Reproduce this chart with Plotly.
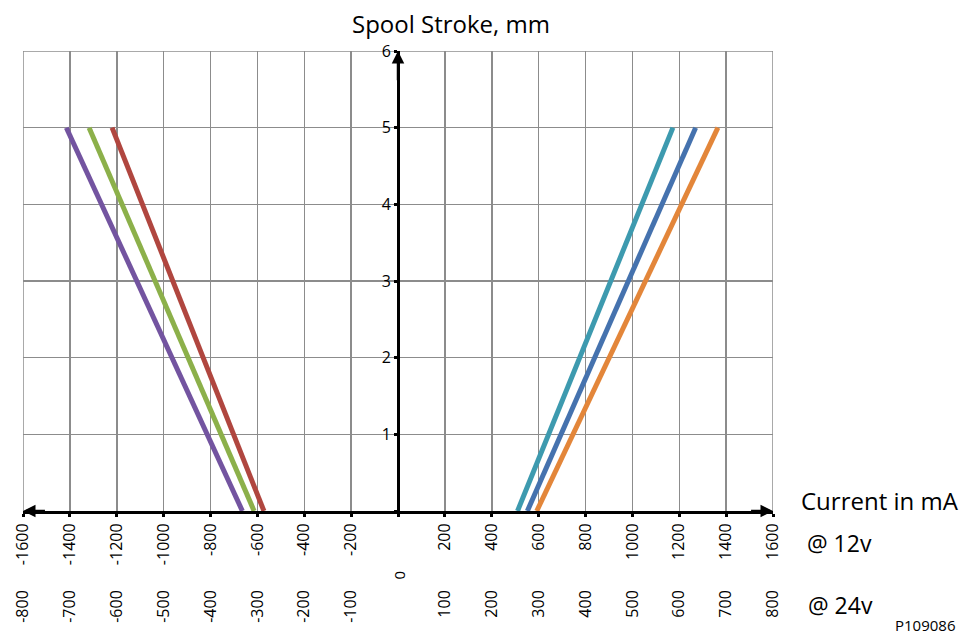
import plotly.graph_objects as go

# ---- data ----
stroke = [0, 5]
purple_ma = [-664, -1415]
green_ma = [-614, -1318]
red_ma = [-572, -1220]
teal_ma = [510, 1173]
blue_ma = [552, 1270]
orange_ma = [592, 1365]

x12_ticks = list(range(-1600, 1601, 200))
x12_labels = ["" if v == 0 else str(v) for v in x12_ticks]
x24_ticks = list(range(-800, 801, 100))
x24_labels = ["" if v == 0 else str(v) for v in x24_ticks]
y_ticks = [0, 1, 2, 3, 4, 5, 6]
y_labels = ["", "1", "2", "3", "4", "5", "6"]

series = [
    (purple_ma, "#7354A0"),
    (green_ma, "#8CB04A"),
    (red_ma, "#B0463F"),
    (teal_ma, "#3D9AAF"),
    (blue_ma, "#4572AE"),
    (orange_ma, "#E3863A"),
]

fig = go.Figure()
for xs, col in series:
    fig.add_trace(go.Scatter(x=xs, y=stroke, mode="lines",
                             line=dict(color=col, width=5), showlegend=False,
                             hoverinfo="skip"))
# invisible trace for secondary axis
fig.add_trace(go.Scatter(x=[-800, 800], y=[0, 0], xaxis="x2", mode="markers",
                         marker=dict(opacity=0), showlegend=False, hoverinfo="skip"))

FONT = "Open Sans, Noto Sans, sans-serif"
W, H = 960, 636
l, r, t, b = 23, 187, 51, 10
plot_w = W - l - r
plot_h = H - t - b


def sx(px):
    return (px - l) / plot_w


def sy(py):
    return 1 - (py - t) / plot_h


y0_frac = sy(511)
x2_pos = sy(586)

fig.update_layout(
    template="none",
    width=W, height=H,
    margin=dict(l=l, r=r, t=t, b=b, autoexpand=False),
    paper_bgcolor="white", plot_bgcolor="white",
    font=dict(family=FONT, color="black"),
    xaxis=dict(range=[-1600, 1600], tickvals=x12_ticks, ticktext=x12_labels,
               tickangle=-90, tickfont=dict(size=16), automargin=False,
               showgrid=True, gridcolor="#8c8c8c", gridwidth=1.5,
               zeroline=False, showline=True, linecolor="black", linewidth=3,
               ticks="outside", ticklen=3, tickwidth=3, tickcolor="black",
               anchor="y", fixedrange=True),
    xaxis2=dict(range=[-800, 800], tickvals=x24_ticks, ticktext=x24_labels,
                tickangle=-90, tickfont=dict(size=16), overlaying="x",
                anchor="free", position=x2_pos, side="bottom", automargin=False,
                showgrid=False, zeroline=False, showline=False, ticks=""),
    yaxis=dict(range=[0, 6], domain=[y0_frac, 1], tickvals=y_ticks, ticktext=y_labels,
               tickfont=dict(size=16), automargin=False,
               showgrid=True, gridcolor="#8c8c8c", gridwidth=1.5,
               zeroline=False, showline=True, linecolor="black", linewidth=3,
               ticks="outside", ticklen=3, tickwidth=3, tickcolor="black",
               anchor="free", position=0.5, fixedrange=True),
)

# border gridlines at the edges
fig.add_shape(type="line", xref="x", yref="y", x0=-1600, x1=1600, y0=6, y1=6,
              line=dict(color="#8c8c8c", width=1.5), layer="below")
fig.add_shape(type="line", xref="x", yref="y", x0=-1600, x1=-1600, y0=0, y1=6,
              line=dict(color="#8c8c8c", width=1.5), layer="below")
fig.add_shape(type="line", xref="x", yref="y", x0=1600, x1=1600, y0=0, y1=6,
              line=dict(color="#8c8c8c", width=1.5), layer="below")

# arrows on axes
for (ax_, ay_, x_, y_) in [(1500, 0, 1600, 0), (-1500, 0, -1600, 0), (0, 5.6, 0, 6)]:
    fig.add_annotation(x=x_, y=y_, ax=ax_, ay=ay_, xref="x", yref="y",
                       axref="x", ayref="y", showarrow=True, arrowhead=2,
                       arrowsize=1, arrowwidth=2.5, arrowcolor="black", text="")

fig.add_annotation(x=0, y=sy(582), xref="x", yref="paper", text="0", showarrow=False,
                   textangle=-90, font=dict(size=15))

annots = [
    ("Spool Stroke, mm", 451, 23, 24),
    ("Current in mA", 880, 500, 24),
    ("@ 12v", 839, 543, 23),
    ("@ 24v", 840, 605, 23),
    ("P109086", 925, 625, 15),
]
for txt, px, py, sz in annots:
    fig.add_annotation(x=sx(px), y=sy(py),
                       xref="paper", yref="paper", text=txt, showarrow=False,
                       xanchor="center", yanchor="middle", font=dict(size=sz))

fig.write_html("out.html", config={"displayModeBar": False, "staticPlot": True})

# remove the default browser body margin so the figure sits at (0, 0)
with open("out.html", "r", encoding="utf-8") as f:
    html = f.read()
html = html.replace("<head>", "<head><style>html,body{margin:0;padding:0;overflow:hidden}</style>", 1)
with open("out.html", "w", encoding="utf-8") as f:
    f.write(html)
